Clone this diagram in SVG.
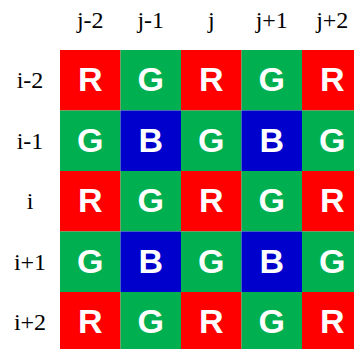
<svg xmlns="http://www.w3.org/2000/svg" width="354" height="349" viewBox="0 0 354 349">
<style>
.r{fill:#FF0000}.g{fill:#00B050}.b{fill:#0000CC}
.t{font-family:'Liberation Sans',Arial,sans-serif;font-weight:bold;font-size:34px;fill:#fff;text-anchor:middle}
.l{font-family:'Liberation Serif','Times New Roman',serif;font-size:24px;fill:#000;text-anchor:middle}
</style>
<rect width="354" height="349" fill="#fff"/>
<g id="col-labels" font-family="Liberation Serif, serif">
<text class="l" x="90.25" y="28">j-2</text>
<text class="l" x="150.75" y="28">j-1</text>
<text class="l" x="211.25" y="28">j</text>
<text class="l" x="271.75" y="28">j+1</text>
<text class="l" x="332.25" y="28">j+2</text>
</g>
<g id="row-labels" font-family="Liberation Serif, serif">
<text class="l" x="30" y="88">i-2</text>
<text class="l" x="30" y="148.5">i-1</text>
<text class="l" x="30" y="209">i</text>
<text class="l" x="30" y="269.5">i+1</text>
<text class="l" x="30" y="330">i+2</text>
</g>
<g id="grid">
<g id="r0">
<rect class="r" x="60" y="50" width="60.5" height="60.5"/><text class="t" x="90.25" y="91">R</text>
<rect class="g" x="120.5" y="50" width="60.5" height="60.5"/><text class="t" x="150.75" y="91">G</text>
<rect class="r" x="181" y="50" width="60.5" height="60.5"/><text class="t" x="211.25" y="91">R</text>
<rect class="g" x="241.5" y="50" width="60.5" height="60.5"/><text class="t" x="271.75" y="91">G</text>
<rect class="r" x="302" y="50" width="60.5" height="60.5"/><text class="t" x="332.25" y="91">R</text>
</g>
<g id="r1">
<rect class="g" x="60" y="110.5" width="60.5" height="60.5"/><text class="t" x="90.25" y="151.5">G</text>
<rect class="b" x="120.5" y="110.5" width="60.5" height="60.5"/><text class="t" x="150.75" y="151.5">B</text>
<rect class="g" x="181" y="110.5" width="60.5" height="60.5"/><text class="t" x="211.25" y="151.5">G</text>
<rect class="b" x="241.5" y="110.5" width="60.5" height="60.5"/><text class="t" x="271.75" y="151.5">B</text>
<rect class="g" x="302" y="110.5" width="60.5" height="60.5"/><text class="t" x="332.25" y="151.5">G</text>
</g>
<g id="r2">
<rect class="r" x="60" y="171" width="60.5" height="60.5"/><text class="t" x="90.25" y="212">R</text>
<rect class="g" x="120.5" y="171" width="60.5" height="60.5"/><text class="t" x="150.75" y="212">G</text>
<rect class="r" x="181" y="171" width="60.5" height="60.5"/><text class="t" x="211.25" y="212">R</text>
<rect class="g" x="241.5" y="171" width="60.5" height="60.5"/><text class="t" x="271.75" y="212">G</text>
<rect class="r" x="302" y="171" width="60.5" height="60.5"/><text class="t" x="332.25" y="212">R</text>
</g>
<g id="r3">
<rect class="g" x="60" y="231.5" width="60.5" height="60.5"/><text class="t" x="90.25" y="272.5">G</text>
<rect class="b" x="120.5" y="231.5" width="60.5" height="60.5"/><text class="t" x="150.75" y="272.5">B</text>
<rect class="g" x="181" y="231.5" width="60.5" height="60.5"/><text class="t" x="211.25" y="272.5">G</text>
<rect class="b" x="241.5" y="231.5" width="60.5" height="60.5"/><text class="t" x="271.75" y="272.5">B</text>
<rect class="g" x="302" y="231.5" width="60.5" height="60.5"/><text class="t" x="332.25" y="272.5">G</text>
</g>
<g id="r4">
<rect class="r" x="60" y="292" width="60.5" height="60.5"/><text class="t" x="90.25" y="333">R</text>
<rect class="g" x="120.5" y="292" width="60.5" height="60.5"/><text class="t" x="150.75" y="333">G</text>
<rect class="r" x="181" y="292" width="60.5" height="60.5"/><text class="t" x="211.25" y="333">R</text>
<rect class="g" x="241.5" y="292" width="60.5" height="60.5"/><text class="t" x="271.75" y="333">G</text>
<rect class="r" x="302" y="292" width="60.5" height="60.5"/><text class="t" x="332.25" y="333">R</text>
</g>
</g>
<g id="connectors"/>
</svg>
